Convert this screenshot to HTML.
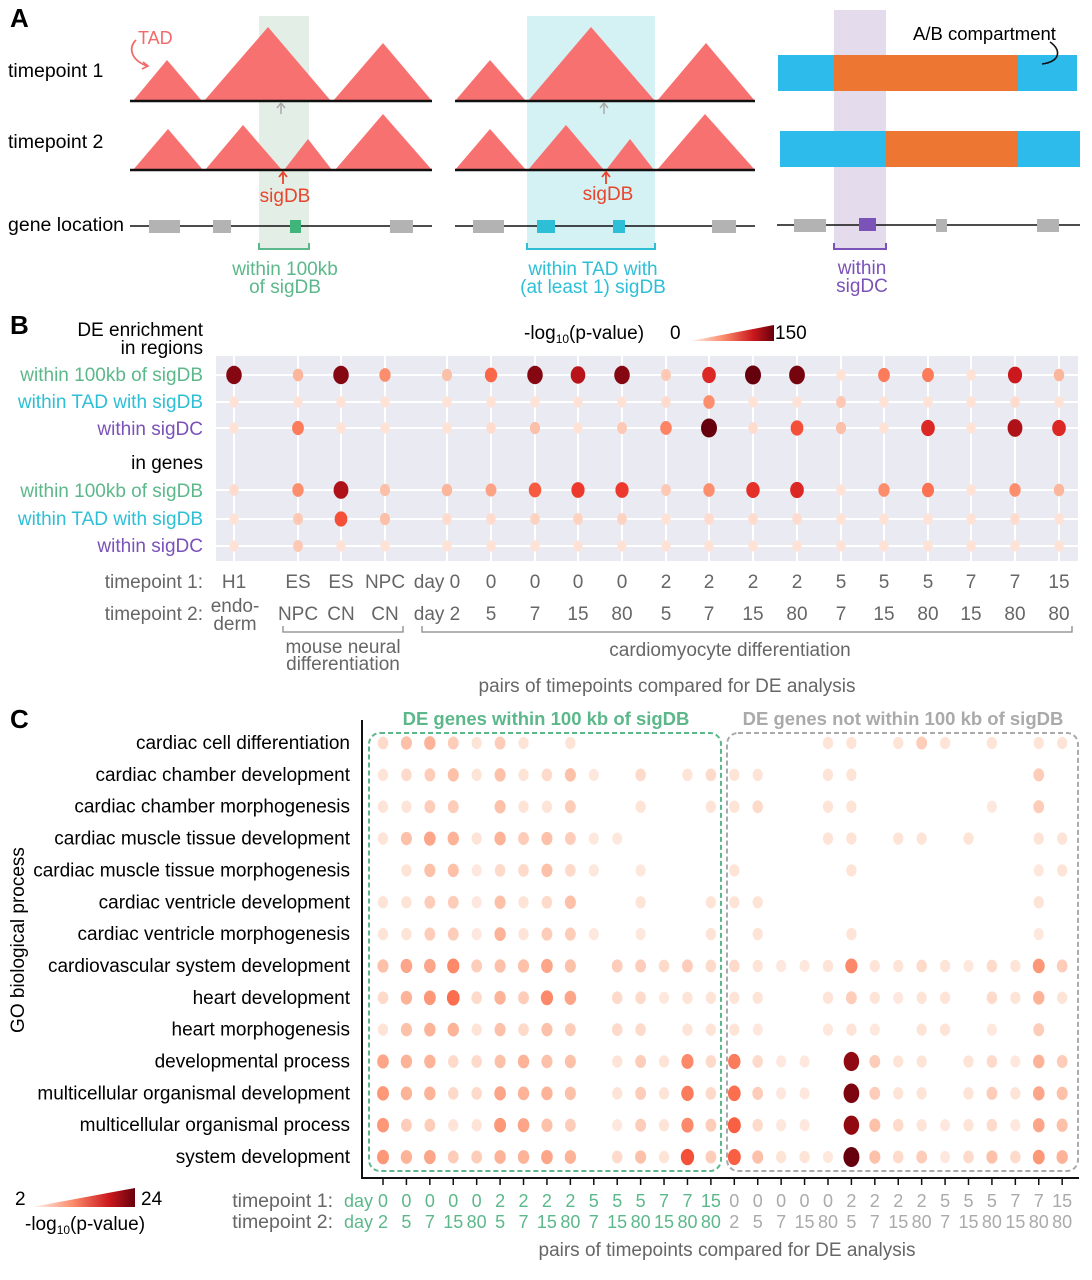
<!DOCTYPE html>
<html><head><meta charset="utf-8"><style>
body{margin:0;background:#fff;}
svg{display:block;font-family:"Liberation Sans",sans-serif;}
</style></head><body>
<svg id="fig" width="1092" height="1280" viewBox="0 0 1092 1280">
<defs>
<linearGradient id="gB" x1="0" x2="1"><stop offset="0" stop-color="#fff5f0"/><stop offset="0.4" stop-color="#fb8a6a"/><stop offset="0.75" stop-color="#cb181d"/><stop offset="1" stop-color="#67000d"/></linearGradient>
</defs>
<!-- PANEL A -->
<g>
<text x="10" y="27" font-size="26" font-weight="bold">A</text>
<rect x="259" y="16" width="50" height="234" fill="#e3efe6"/>
<rect x="527" y="16" width="128" height="234" fill="#d4f1f4"/>
<rect x="834" y="10" width="52" height="240" fill="#e4dcec"/>
<text x="8" y="77" font-size="19.5">timepoint 1</text>
<text x="8" y="148" font-size="19.5">timepoint 2</text>
<text x="8" y="231" font-size="19.5">gene location</text>
<text x="138" y="44" font-size="18" fill="#f26a6a">TAD</text>
<path d="M136,40 C128,48 131,60 147,66" stroke="#f26a6a" stroke-width="1.8" fill="none"/>
<path d="M143,62 L148,66 L142,69" stroke="#f26a6a" stroke-width="1.6" fill="none"/>
<g fill="#f87171">
<polygon points="133,101 167,60 202,101"/><polygon points="204,101 268,27 331,101"/><polygon points="333,101 383,43 432,101"/>
<polygon points="133,170 168,129 203,170"/><polygon points="205,170 243,125 282,170"/><polygon points="284,170 308,139 332,170"/><polygon points="335,170 383,114 432,170"/>
<polygon points="455,101 490,60 526,101"/><polygon points="528,101 591,27 655,101"/><polygon points="657,101 706,43 755,101"/>
<polygon points="455,170 490,129 526,170"/><polygon points="528,170 566,125 604,170"/><polygon points="606,170 630,139 654,170"/><polygon points="657,170 705,114 755,170"/>
</g>
<g stroke="#111" stroke-width="2.5">
<line x1="130" y1="101" x2="432" y2="101"/><line x1="130" y1="170" x2="432" y2="170"/>
<line x1="455" y1="101" x2="755" y2="101"/><line x1="455" y1="170" x2="755" y2="170"/>
</g>
<g stroke="#111" stroke-width="1.6"><line x1="130" y1="226" x2="432" y2="226"/><line x1="455" y1="226" x2="755" y2="226"/><line x1="777" y1="225" x2="1080" y2="225"/></g>
<g stroke="#aaa" stroke-width="1.5" fill="none"><path d="M281,114 V103 M277,108 L281,103 L285,108"/><path d="M604,114 V103 M600,108 L604,103 L608,108"/></g>
<g stroke="#e8452d" stroke-width="1.8" fill="none"><path d="M283,184 V172 M279,177 L283,172 L287,177"/><path d="M606,184 V172 M602,177 L606,172 L610,177"/></g>
<text x="285" y="202" font-size="19" fill="#e8452d" text-anchor="middle">sigDB</text>
<text x="608" y="200" font-size="19" fill="#e8452d" text-anchor="middle">sigDB</text>
<g fill="#b3b3b3">
<rect x="149" y="220" width="31" height="13"/><rect x="213" y="220" width="18" height="13"/><rect x="390" y="220" width="23" height="13"/>
<rect x="473" y="220" width="31" height="13"/><rect x="712" y="220" width="24" height="13"/>
<rect x="794" y="219" width="32" height="13"/><rect x="936" y="219" width="11" height="13"/><rect x="1037" y="219" width="22" height="13"/>
</g>
<rect x="290" y="220" width="11" height="13" fill="#3fb57a"/>
<rect x="537" y="220" width="18" height="13" fill="#2dbfd6"/><rect x="613" y="220" width="12" height="13" fill="#2dbfd6"/>
<rect x="859" y="218" width="17" height="13" fill="#7b52b8"/>
<path d="M259,243 V249 H309 V243" stroke="#5cb88a" stroke-width="2" fill="none"/>
<path d="M527,243 V249 H655 V243" stroke="#2dbfd6" stroke-width="2" fill="none"/>
<path d="M834,243 V249 H886 V243" stroke="#7b52b8" stroke-width="2" fill="none"/>
<g font-size="19" text-anchor="middle">
<text x="285" y="275" fill="#5cb88a">within 100kb</text><text x="285" y="293" fill="#5cb88a">of sigDB</text>
<text x="593" y="275" fill="#2dbfd6">within TAD with</text><text x="593" y="293" fill="#2dbfd6">(at least 1) sigDB</text>
<text x="862" y="274" fill="#7b52b8">within</text><text x="862" y="292" fill="#7b52b8">sigDC</text>
</g>
<rect x="778" y="55" width="56" height="36" fill="#2dbbec"/><rect x="834" y="55" width="184" height="36" fill="#ed7632"/><rect x="1018" y="55" width="59" height="36" fill="#2dbbec"/>
<rect x="780" y="131" width="106" height="36" fill="#2dbbec"/><rect x="886" y="131" width="132" height="36" fill="#ed7632"/><rect x="1018" y="131" width="62" height="36" fill="#2dbbec"/>
<text x="913" y="40" font-size="18.5">A/B compartment</text>
<path d="M1050,42 C1062,50 1060,62 1042,64" stroke="#111" stroke-width="1.6" fill="none"/>
</g>

<!-- PANEL B -->
<g>
<text x="10" y="334" font-size="26" font-weight="bold">B</text>
<rect x="216" y="356" width="862" height="205" fill="#eaeaf2"/>
<g id="gridB"></g><g id="dotsB"></g>
<g font-size="19" text-anchor="end">
<text x="203" y="336">DE enrichment</text><text x="203" y="354">in regions</text>
<text x="203" y="381" fill="#5cb88a">within 100kb of sigDB</text>
<text x="203" y="408" fill="#2dbfd6">within TAD with sigDB</text>
<text x="203" y="435" fill="#7b52b8">within sigDC</text>
<text x="203" y="469">in genes</text>
<text x="203" y="497" fill="#5cb88a">within 100kb of sigDB</text>
<text x="203" y="525" fill="#2dbfd6">within TAD with sigDB</text>
<text x="203" y="552" fill="#7b52b8">within sigDC</text>
<text x="203" y="588" fill="#666">timepoint 1:</text>
<text x="203" y="620" fill="#666">timepoint 2:</text>
</g>
<text x="524" y="339" font-size="19">-log<tspan font-size="12" dy="4">10</tspan><tspan dy="-4">(p-value)</tspan></text>
<text x="670" y="339" font-size="19">0</text>
<polygon points="690,341 774,341 774,325" fill="url(#gB)"/>
<text x="775" y="339" font-size="19">150</text>
<g id="xlabB" font-size="19" fill="#666" text-anchor="middle"></g>
<text x="235" y="612" font-size="19" fill="#666" text-anchor="middle">endo-</text>
<text x="235" y="630" font-size="19" fill="#666" text-anchor="middle">derm</text>
<path d="M283,626 V632 H403 V626" stroke="#888" stroke-width="1.3" fill="none"/>
<path d="M422,626 V632 H1072 V626" stroke="#888" stroke-width="1.3" fill="none"/>
<text x="343" y="653" font-size="19" fill="#666" text-anchor="middle">mouse neural</text>
<text x="343" y="670" font-size="19" fill="#666" text-anchor="middle">differentiation</text>
<text x="730" y="656" font-size="19" fill="#666" text-anchor="middle">cardiomyocyte differentiation</text>
<text x="667" y="692" font-size="19" fill="#666" text-anchor="middle">pairs of timepoints compared for DE analysis</text>
</g>

<!-- PANEL C -->
<g>
<text x="10" y="728" font-size="26" font-weight="bold">C</text>
<text x="546" y="725" font-size="18.5" font-weight="bold" fill="#5cb88a" text-anchor="middle">DE genes within 100 kb of sigDB</text>
<text x="903" y="725" font-size="18.5" font-weight="bold" fill="#aaa" text-anchor="middle">DE genes not within 100 kb of sigDB</text>
<rect x="369" y="733" width="352" height="438" rx="11" fill="none" stroke="#5cb88a" stroke-width="2" stroke-dasharray="5,3"/>
<rect x="727" y="733" width="351" height="438" rx="11" fill="none" stroke="#aaa" stroke-width="2" stroke-dasharray="5,3"/>
<g id="dotsC"></g>
<line x1="362" y1="720" x2="362" y2="1179" stroke="#111" stroke-width="2"/>
<line x1="361" y1="1178" x2="1079" y2="1178" stroke="#111" stroke-width="2"/>
<g id="ticksC"></g>
<g id="ylabC" font-size="19" text-anchor="end"></g>
<text transform="translate(24,940) rotate(-90)" font-size="19" text-anchor="middle">GO biological process</text>
<text x="333" y="1207" font-size="19.5" fill="#666" text-anchor="end">timepoint 1:</text>
<text x="333" y="1228" font-size="19.5" fill="#666" text-anchor="end">timepoint 2:</text>
<g id="xlabC" font-size="18" text-anchor="middle"></g>
<text x="727" y="1256" font-size="19" fill="#666" text-anchor="middle">pairs of timepoints compared for DE analysis</text>
<text x="15" y="1205" font-size="19">2</text>
<polygon points="32,1207 135,1207 135,1188" fill="url(#gB)"/>
<text x="141" y="1205" font-size="19">24</text>
<text x="25" y="1230" font-size="19">-log<tspan font-size="12" dy="4">10</tspan><tspan dy="-4">(p-value)</tspan></text>
</g>
</svg>
<script>
const bTp1 = ["H1","ES","ES","NPC","day 0","0","0","0","0","2","2","2","2","5","5","5","7","7","15"];
const bTp2 = ["","NPC","CN","CN","day 2","5","7","15","80","5","7","15","80","7","15","80","15","80","80"];
const bX = [234,298,341,385,447,491,535,578,622,666,709,753,797,841,884,928,971,1015,1059];
const bRowsY = [375,402,428,490,519,546];
const bVals = [
 [140,30,140,50,25,70,140,120,140,20,100,150,145,5,60,60,5,110,30],
 [5,5,5,5,5,5,5,5,5,10,50,5,5,20,5,5,5,10,5],
 [5,60,5,5,5,10,25,5,20,55,150,10,80,25,5,100,5,125,100],
 [10,50,125,25,30,40,75,90,90,20,50,95,100,5,50,65,5,50,30],
 [5,20,80,25,10,10,15,15,15,5,10,10,10,5,5,5,5,10,5],
 [5,20,5,5,5,5,5,5,5,5,5,5,5,5,5,5,5,5,5]
];
const cRows = ["cardiac cell differentiation","cardiac chamber development","cardiac chamber morphogenesis","cardiac muscle tissue development","cardiac muscle tissue morphogenesis","cardiac ventricle development","cardiac ventricle morphogenesis","cardiovascular system development","heart development","heart morphogenesis","developmental process","multicellular organismal development","multicellular organismal process","system development"];
const cTp1 = ["day 0","0","0","0","0","2","2","2","2","5","5","5","7","7","15","0","0","0","0","0","2","2","2","2","5","5","5","7","7","15"];
const cTp2 = ["day 2","5","7","15","80","5","7","15","80","7","15","80","15","80","80","2","5","7","15","80","5","7","15","80","7","15","80","15","80","80"];
const n=null;
const cVals = [
 [4,6,7,5,3,5,3,n,3,n,n,n,n,n,n, n,n,n,n,3,3,n,3,5,3,n,3,n,3,3],
 [3,4,5,6,3,6,3,4,6,2.5,n,4,n,3,4, 3,3,n,n,3,3,n,n,n,n,n,n,n,5,n],
 [3,3,5,5,n,6,3,3,5,n,n,3,n,n,3, 3,4,n,n,3,3,n,n,n,n,n,2.5,n,5,n],
 [3,6,8,7,3,7,5,6,5,2.5,2.5,n,n,n,n, n,n,n,n,3,3,n,3,3,n,3,n,n,3,3],
 [n,3,6,6,2.5,4,4,6,4,2.5,n,2.5,n,n,n, 3,n,n,n,n,3,n,n,n,n,n,n,n,2.5,3],
 [3,3,5,5,2.5,6,3,4,6,n,n,3,n,n,3, 3,3,n,n,n,n,n,n,n,n,n,n,n,3,n],
 [3,3,5,5,2.5,7,3,5,5,2.5,n,2.5,n,n,3, n,3,n,n,n,3,n,n,n,n,n,n,n,2.5,n],
 [6,8,8,10,5,6,6,8,6,n,5,5,4,5,4, 4,3,2.5,2.5,3,10,3,3,4,3,2.5,4,3,9,5],
 [4,7,9,12,4,7,5,10,8,n,4,4,2.5,3,3, 3,3,n,n,3,5,3,2.5,3,3,n,4,3,7,3],
 [3,6,7,7,3,6,4,6,5,n,4,4,n,3,3, 3,2.5,n,n,2.5,3,2.5,n,3,3,n,2.5,n,5,n],
 [8,7,7,4,4,6,7,6,6,n,3,5,3,10,4, 11,4,2.5,2.5,n,22,5,3,3,n,3,4,2.5,7,5],
 [9,7,7,4,4,8,7,7,6,n,3,5,3,11,4, 12,5,2.5,2.5,n,23,5,3,3,n,3,5,3,8,6],
 [9,5,5,3,3,9,8,6,5,n,2.5,5,3,10,5, 13,4,2.5,2.5,n,22,6,4,3,2.5,3,4,2.5,8,6],
 [9,7,8,5,5,7,7,8,7,n,4,6,3,14,5, 13,6,3,3,2.5,24,6,4,5,2.5,4,6,4,9,7]
];
const NS="http://www.w3.org/2000/svg";
const stops=[[255,245,240],[254,224,210],[252,187,161],[252,146,114],[251,106,74],[239,59,44],[203,24,29],[165,15,21],[103,0,13]];
function reds(t){t=Math.max(0,Math.min(1,t));const p=t*8,i=Math.min(7,Math.floor(p)),f=p-i;const a=stops[i],b=stops[i+1];return `rgb(${a.map((v,k)=>Math.round(v+(b[k]-v)*f)).join(',')})`;}
function mk(tag,attrs,parent){const e=document.createElementNS(NS,tag);for(const k in attrs)e.setAttribute(k,attrs[k]);parent.appendChild(e);return e;}
const xB=i=>bX[i], yB=r=>bRowsY[r];
const gridB=document.getElementById('gridB');
bX.forEach((x,i)=>{const l=mk('line',{x1:xB(i),x2:xB(i),y1:356,y2:561,stroke:'#fff','stroke-width':2},gridB);

});
bRowsY.forEach((y,r)=>{const l=mk('line',{x1:216,x2:1078,y1:yB(r),y2:yB(r),stroke:'#fff','stroke-width':2},gridB);

});
const dotsB=document.getElementById('dotsB');
bVals.forEach((row,r)=>row.forEach((v,i)=>{const t=v/150;
const e=mk('ellipse',{cx:xB(i),cy:yB(r),rx:4.5+3.5*t,ry:5.5+4*t,fill:reds(0.08+0.92*t)},dotsB);

}));
const xl=document.getElementById('xlabB');
bTp1.forEach((s,i)=>{const t=mk('text',{x:s.startsWith('day')?xB(i)-10:xB(i),y:588},xl);t.textContent=s;

});
bTp2.forEach((s,i)=>{if(!s)return;const t=mk('text',{x:s.startsWith('day')?xB(i)-10:xB(i),y:620},xl);t.textContent=s;

});
const xC=i=>383+i*23.42, yC=r=>743+r*31.85;
const dotsC=document.getElementById('dotsC');
cVals.forEach((row,r)=>row.forEach((v,i)=>{if(v==null)return;const t=(v-2)/22;
const e=mk('ellipse',{cx:xC(i),cy:yC(r),rx:5+3*t,ry:6+4*t,fill:reds(0.06+0.94*t)},dotsC);

}));
const tk=document.getElementById('ticksC');
cTp1.forEach((s,i)=>{const l=mk('line',{x1:xC(i),x2:xC(i),y1:1178,y2:1185,stroke:'#111','stroke-width':1.5},tk);

});
const yl=document.getElementById('ylabC');
cRows.forEach((s,r)=>{const t=mk('text',{x:350,y:yC(r)+6},yl);t.textContent=s;

});
const xlc=document.getElementById('xlabC');
function addC(arr,y,nm){arr.forEach((s,i)=>{const col=i<15?'#5cb88a':'#aaa';
const t=mk('text',{x:s.startsWith('day')?xC(i)-17:xC(i),y:y,fill:col},xlc);t.textContent=s;

});}
addC(cTp1,1207,'tick-label-tp1-c');addC(cTp2,1228,'tick-label-tp2-c');
</script>
</body></html>
